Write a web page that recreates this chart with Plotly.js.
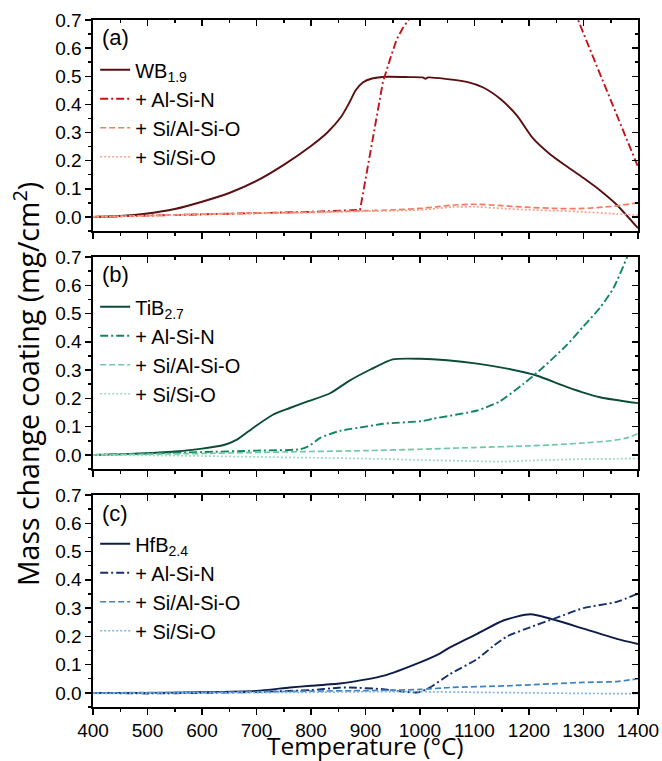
<!DOCTYPE html>
<html><head><meta charset="utf-8">
<script src="https://cdn.plot.ly/plotly-3.0.1.min.js"></script>
<style>html,body{margin:0;padding:0;background:#fff}#plot{width:662px;height:761px}</style>
</head><body><div id="plot"></div>
<script>
// ---- Panel (a): WB1.9 ----
const wbT = [400,450,500,550,600,650,700,750,800,830,855,870,882,895,912,940,980,1005,1010,1015,1050,1086,1116,1147,1178,1207,1238,1269,1300,1330,1360,1400];
const wbV = [0,0.003,0.012,0.028,0.054,0.085,0.128,0.185,0.252,0.30,0.355,0.405,0.45,0.478,0.492,0.498,0.497,0.496,0.491,0.496,0.49,0.48,0.46,0.42,0.36,0.28,0.224,0.18,0.138,0.095,0.045,-0.04];
const wbNT = [400,500,600,700,800,890,900,915,932,945,957,968,978,1000,1050,1100,1150,1200,1250,1290,1320,1350,1380,1400];
const wbNV = [0,0.004,0.008,0.012,0.018,0.025,0.135,0.3,0.48,0.56,0.63,0.67,0.70,0.76,0.86,0.91,0.92,0.88,0.80,0.70,0.557,0.415,0.273,0.178];
const wbOT = [400,500,600,700,800,900,950,1000,1030,1060,1100,1150,1200,1250,1300,1350,1400];
const wbOV = [0,0.005,0.01,0.014,0.017,0.022,0.025,0.03,0.036,0.042,0.045,0.04,0.034,0.03,0.03,0.037,0.05];
const wbSV = [0,0.004,0.009,0.012,0.015,0.02,0.022,0.025,0.03,0.035,0.036,0.03,0.025,0.022,0.018,0.012,0.006];

// ---- Panel (b): TiB2.7 ----
const tiT = [400,450,500,550,600,640,665,695,730,760,795,835,870,910,950,1000,1050,1105,1160,1215,1270,1330,1400];
const tiV = [0,0.002,0.006,0.012,0.022,0.035,0.055,0.097,0.142,0.165,0.19,0.218,0.262,0.303,0.338,0.34,0.335,0.323,0.305,0.28,0.24,0.204,0.183];
const tiNT = [400,500,600,700,780,795,817,853,900,932,1006,1024,1105,1147,1189,1226,1270,1300,1330,1355,1380,1400];
const tiNV = [0,0.005,0.01,0.015,0.02,0.03,0.06,0.085,0.1,0.11,0.12,0.128,0.157,0.19,0.25,0.31,0.39,0.455,0.52,0.59,0.70,0.80];
const tiOT = [400,600,800,900,1000,1100,1200,1250,1300,1350,1380,1400];
const tiOV = [0,0.005,0.012,0.015,0.02,0.026,0.032,0.036,0.042,0.05,0.06,0.075];
const tiST = [400,500,600,700,800,900,1000,1100,1150,1200,1300,1400];
const tiSV = [0,-0.002,-0.004,-0.007,-0.01,-0.013,-0.018,-0.022,-0.024,-0.02,-0.015,-0.013];

// ---- Panel (c): HfB2.4 ----
const hfT = [400,500,600,700,761,800,853,872,932,1000,1037,1055,1105,1153,1202,1251,1300,1361,1400];
const hfV = [0,0,0.002,0.007,0.019,0.025,0.033,0.038,0.06,0.108,0.14,0.161,0.209,0.256,0.278,0.256,0.227,0.191,0.173];
const hfNT = [400,500,600,700,800,850,872,932,960,997,1018,1055,1105,1134,1160,1202,1251,1300,1361,1400];
const hfNV = [0,-0.002,0,0.003,0.01,0.018,0.019,0.013,0.006,0.002,0.019,0.066,0.12,0.165,0.2,0.232,0.266,0.3,0.322,0.351];
const hfOT = [400,600,800,900,1000,1055,1160,1300,1361,1400];
const hfOV = [0,0.002,0.006,0.008,0.012,0.019,0.025,0.037,0.04,0.05];
const hfST = [400,600,800,900,1000,1100,1200,1300,1400];
const hfSV = [-0.002,0,0.002,0.004,0.004,0.002,0,-0.002,-0.003];

const names = {
  a: ['WB<sub>1.9</sub>','+ Al-Si-N','+ Si/Al-Si-O','+ Si/Si-O'],
  b: ['TiB<sub>2.7</sub>','+ Al-Si-N','+ Si/Al-Si-O','+ Si/Si-O'],
  c: ['HfB<sub>2.4</sub>','+ Al-Si-N','+ Si/Al-Si-O','+ Si/Si-O']
};
const colors = {
  a: ['#5a0f10','#c0161b','#f47b60','#f6a28e'],
  b: ['#0b4c35','#10875a','#6cc9a3','#9fd9c0'],
  c: ['#0c1c48','#15306c','#3b82c4','#7fb5e8']
};
const dashes = ['solid','8px,3px,2px,3px','6px,3px','2px,2px'];
const widths = [1.9,1.9,1.7,1.7];

const panels = [
  {k:'a', xa:'x', ya:'y', lg:'legend', data:[[wbT,wbV],[wbNT,wbNV],[wbOT,wbOV],[wbOT,wbSV]]},
  {k:'b', xa:'x2', ya:'y2', lg:'legend2', data:[[tiT,tiV],[tiNT,tiNV],[tiOT,tiOV],[tiST,tiSV]]},
  {k:'c', xa:'x3', ya:'y3', lg:'legend3', data:[[hfT,hfV],[hfNT,hfNV],[hfOT,hfOV],[hfST,hfSV]]}
];
const traces = [];
panels.forEach(p => {
  p.data.forEach((d,i) => {
    const sharp = (p.k === 'a' && i === 1);
    traces.push({x:d[0], y:d[1], xaxis:p.xa, yaxis:p.ya, legend:p.lg, mode:'lines',
      name:names[p.k][i], line:{color:colors[p.k][i], width:widths[i], dash:dashes[i], shape: sharp ? 'linear' : 'spline', smoothing:0.6}, hoverinfo:'skip'});
  });
});
// dummy traces for mirrored (inside) tick axes
[['x4','y4'],['x5','y5'],['x6','y6']].forEach(a => traces.push({x:[], y:[], xaxis:a[0], yaxis:a[1], showlegend:false, hoverinfo:'skip'}));

const tickFont = {family:'Liberation Sans, Arial, sans-serif', size:19, color:'#000'};
const doms = [[0.6929,1],[0.3464,0.655],[0,0.3086]];
function xa(anchor, labels, extra){
  return Object.assign({range:[400,1400], anchor:anchor, domain:[0,1], showline:true, linecolor:'#000', linewidth:1.6,
    ticks:'outside', ticklen:6, tickwidth:1.5, tickcolor:'#000', dtick:100, tick0:400, showgrid:false, zeroline:false,
    showticklabels:labels, tickfont:tickFont, minor:{ticks:'outside', ticklen:3, tickwidth:1.5, tickcolor:'#000', dtick:50}}, extra||{});
}
function ya(anchor, dom, extra){
  return Object.assign({range:[-0.05,0.7], anchor:anchor, domain:dom, showline:true, linecolor:'#000', linewidth:1.6,
    ticks:'outside', ticklen:6, tickwidth:1.5, tickcolor:'#000', dtick:0.1, tick0:0, tickformat:'.1f', showgrid:false, zeroline:false,
    tickfont:tickFont, minor:{ticks:'outside', ticklen:3, tickwidth:1.5, tickcolor:'#000', dtick:0.05}}, extra||{});
}
const inX = {side:'top', ticks:'inside', showticklabels:false, minor:{ticks:'inside', ticklen:3, tickwidth:1.5, tickcolor:'#000', dtick:50}};
const inY = {side:'right', ticks:'inside', showticklabels:false, minor:{ticks:'inside', ticklen:3, tickwidth:1.5, tickcolor:'#000', dtick:0.05}};

const legFont = {family:'Liberation Sans, Arial, sans-serif', size:20, color:'#000'};
function leg(y){ return {x:0.004, xanchor:'left', y:y, yanchor:'top', bgcolor:'rgba(0,0,0,0)', font:legFont, tracegroupgap:0, itemwidth:30}; }

const layout = {
  width:662, height:761, paper_bgcolor:'#fff', plot_bgcolor:'#fff',
  margin:{l:93, r:24, t:20, b:54},
  showlegend:true,
  xaxis: xa('y', false), yaxis: ya('x', doms[0]),
  xaxis2: xa('y2', false), yaxis2: ya('x2', doms[1]),
  xaxis3: xa('y3', true),
  yaxis3: ya('x3', doms[2]),
  xaxis4: xa('y4', false, Object.assign({overlaying:'x'}, inX)), yaxis4: ya('x4', doms[0], Object.assign({overlaying:'y'}, inY)),
  xaxis5: xa('y5', false, Object.assign({overlaying:'x2'}, inX)), yaxis5: ya('x5', doms[1], Object.assign({overlaying:'y2'}, inY)),
  xaxis6: xa('y6', false, Object.assign({overlaying:'x3'}, inX)), yaxis6: ya('x6', doms[2], Object.assign({overlaying:'y3'}, inY)),
  legend: leg(0.956), legend2: leg(0.611), legend3: leg(0.266),
  annotations: [
    {text:'(a)', xref:'paper', yref:'paper', x:0.012, y:0.995, xanchor:'left', yanchor:'top', showarrow:false, font:{family:'Liberation Sans, Arial, sans-serif', size:22, color:'#000'}},
    {text:'(b)', xref:'paper', yref:'paper', x:0.012, y:0.65, xanchor:'left', yanchor:'top', showarrow:false, font:{family:'Liberation Sans, Arial, sans-serif', size:22, color:'#000'}},
    {text:'(c)', xref:'paper', yref:'paper', x:0.012, y:0.303, xanchor:'left', yanchor:'top', showarrow:false, font:{family:'Liberation Sans, Arial, sans-serif', size:22, color:'#000'}},
    {text:'Temperature (°C)', xref:'paper', yref:'paper', x:0.5, y:-0.0555, xanchor:'center', yanchor:'middle', showarrow:false, font:{family:'Open Sans, sans-serif', size:24.5, color:'#000'}},
    {text:'Mass change coating (mg/cm<sup>2</sup>)', xref:'paper', yref:'paper', x:-0.123, y:0.47, xanchor:'center', yanchor:'middle', textangle:-90, showarrow:false, font:{family:'Open Sans, sans-serif', size:28.5, color:'#000'}}
  ]
};
Plotly.newPlot('plot', traces, layout, {staticPlot:true, displayModeBar:false});
</script></body></html>
